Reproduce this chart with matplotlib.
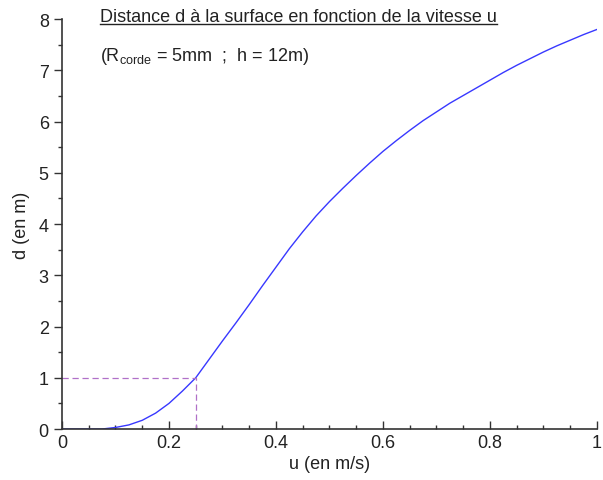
import matplotlib.pyplot as plt
from matplotlib.ticker import MultipleLocator

# values
u = [0.0, 0.05, 0.075, 0.1, 0.125, 0.15, 0.175, 0.2, 0.225, 0.25, 0.275, 0.3,
     0.325, 0.35, 0.375, 0.4, 0.425, 0.45, 0.475, 0.5, 0.525, 0.55, 0.575, 0.6,
     0.625, 0.65, 0.675, 0.7, 0.725, 0.75, 0.775, 0.8, 0.825, 0.85, 0.875, 0.9,
     0.925, 0.95, 0.975, 1.0]
d = [0.0, 0.0, 0.0, 0.03, 0.08, 0.17, 0.31, 0.50, 0.74, 1.0, 1.36, 1.72,
     2.07, 2.43, 2.80, 3.16, 3.52, 3.85, 4.16, 4.44, 4.70, 4.95, 5.19, 5.42,
     5.63, 5.83, 6.02, 6.19, 6.36, 6.51, 6.66, 6.81, 6.96, 7.10, 7.23, 7.36,
     7.48, 7.59, 7.70, 7.80]

u_mark = 0.25
d_mark = 1.0

title = "Distance d à la surface en fonction de la vitesse u"
subtitle = r"(R$_{\mathregular{corde}}$ = 5mm  ;  h = 12m)"

plt.rcParams['font.family'] = ['Liberation Sans', 'DejaVu Sans']

fig = plt.figure(figsize=(6.03, 4.81), dpi=100)
ax = fig.add_axes([0.1028, 0.106, 0.8872, 0.852])

ax.plot(u, d, color='#3838ff', lw=1.0)
ax.plot([0, u_mark, u_mark], [d_mark, d_mark, 0], color='#b070c8', lw=0.9,
        linestyle=(0, (5, 3)))

ax.set_xlim(0, 1)
ax.set_ylim(0, 8)
ax.xaxis.set_major_locator(MultipleLocator(0.2))
ax.xaxis.set_minor_locator(MultipleLocator(0.05))
ax.yaxis.set_major_locator(MultipleLocator(1))
ax.yaxis.set_minor_locator(MultipleLocator(0.5))
ax.tick_params(axis='x', which='major', direction='in', length=6, width=1, colors='#333333')
ax.tick_params(axis='x', which='minor', direction='in', length=3, width=1, colors='#333333')
ax.tick_params(axis='y', which='major', direction='out', length=6, width=1, colors='#333333')
ax.tick_params(axis='y', which='minor', direction='out', length=3, width=1, colors='#333333')
for s in ['top', 'right']:
    ax.spines[s].set_visible(False)
for s in ['left', 'bottom']:
    ax.spines[s].set_color('#333333')
    ax.spines[s].set_linewidth(1.2)
ax.set_xticks([0, 0.2, 0.4, 0.6, 0.8, 1])
ax.set_xticklabels(['0', '0.2', '0.4', '0.6', '0.8', '1'])
ax.tick_params(labelsize=13, labelcolor='#222222')

ax.set_xlabel("u (en m/s)", fontsize=13, color='#222222', labelpad=3)
ax.set_ylabel("d (en m)", fontsize=13, color='#222222', labelpad=6)

t = fig.text(100 / 603, 1 - 17 / 481, title, fontsize=13, color='#222222', va='center')
fig.text(100 / 603, 1 - 57 / 481, subtitle, fontsize=13, color='#222222', va='center')

# underline the title
fig.canvas.draw()
bb = t.get_window_extent().transformed(fig.transFigure.inverted())
fig.add_artist(plt.Line2D([bb.x0, bb.x1], [bb.y0 + 0.002, bb.y0 + 0.002],
                          transform=fig.transFigure, color='#222222', lw=1))

fig.savefig("out.png", dpi=100)
